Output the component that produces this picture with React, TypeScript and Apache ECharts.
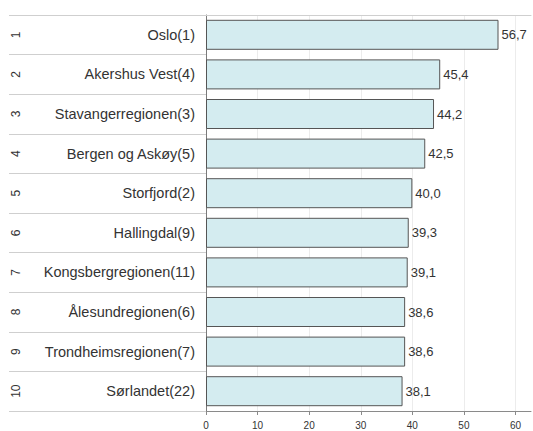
import React, { useEffect, useRef } from "react";
import * as echarts from "echarts";

const categories = [
  "Oslo(1)",
  "Akershus Vest(4)",
  "Stavangerregionen(3)",
  "Bergen og Askøy(5)",
  "Storfjord(2)",
  "Hallingdal(9)",
  "Kongsbergregionen(11)",
  "Ålesundregionen(6)",
  "Trondheimsregionen(7)",
  "Sørlandet(22)",
];
const ranks = ["1", "2", "3", "4", "5", "6", "7", "8", "9", "10"];
const values = [56.7, 45.4, 44.2, 42.5, 40.0, 39.3, 39.1, 38.6, 38.6, 38.1];
const xTicks = [0, 10, 20, 30, 40, 50, 60];

const FONT = "'Liberation Sans', Arial, sans-serif";

export default function App() {
  const ref = useRef<HTMLDivElement>(null);
  useEffect(() => {
    document.body.style.margin = "0";
    const chart = echarts.init(ref.current!, null, { renderer: "svg" });
    chart.setOption({
      animation: false,
      backgroundColor: "#ffffff",
      textStyle: { fontFamily: FONT },
      grid: { left: 206, top: 15, right: 2, bottom: 20, containLabel: false },
      xAxis: [
        {
          type: "value",
          position: "bottom",
          min: 0,
          max: 63,
          interval: 10,
          axisLine: { show: true, lineStyle: { color: "#8a8a8a", width: 1 } },
          axisTick: { show: true, length: 4, lineStyle: { color: "#8a8a8a" }, customValues: xTicks },
          axisLabel: {
            fontSize: 10,
            color: "#333",
            margin: 9,
            fontFamily: FONT,
            customValues: xTicks,
            formatter: (v: number) => String(v),
          },
          splitLine: { show: true, lineStyle: { color: "#ececec", width: 1 } },
        },
        {
          type: "value",
          position: "top",
          min: 0,
          max: 63,
          interval: 10,
          axisLine: { show: true, lineStyle: { color: "#cfcfcf", width: 1 } },
          axisTick: { show: false },
          axisLabel: { show: false },
          splitLine: { show: false },
        },
      ],
      yAxis: [
        {
          type: "category",
          data: categories,
          inverse: true,
          position: "left",
          axisLine: { show: true, lineStyle: { color: "#7a7a7a", width: 1 } },
          axisTick: { show: true, length: 197, lineStyle: { color: "#cfcfcf", width: 1 } },
          axisLabel: { fontSize: 14.5, color: "#333", margin: 11, fontFamily: FONT },
          splitLine: { show: false },
        },
        {
          type: "category",
          data: ranks,
          inverse: true,
          position: "left",
          axisLine: { show: false },
          axisTick: { show: false },
          axisLabel: {
            fontSize: 12,
            color: "#333",
            rotate: 90,
            align: "center",
            verticalAlign: "middle",
            margin: 190,
            fontFamily: FONT,
          },
          splitLine: { show: false },
        },
      ],
      series: [
        {
          type: "bar",
          xAxisIndex: 0,
          yAxisIndex: 0,
          data: values,
          barWidth: 30,
          itemStyle: { color: "#d4ecf0", borderColor: "#555", borderWidth: 1 },
          label: {
            show: true,
            position: "right",
            distance: 3,
            fontSize: 13,
            color: "#333",
            fontFamily: FONT,
            formatter: (p: any) => Number(p.value).toFixed(1).replace(".", ","),
          },
        },
      ],
    });
    return () => chart.dispose();
  }, []);
  return <div ref={ref} style={{ width: 533, height: 431 }} />;
}
